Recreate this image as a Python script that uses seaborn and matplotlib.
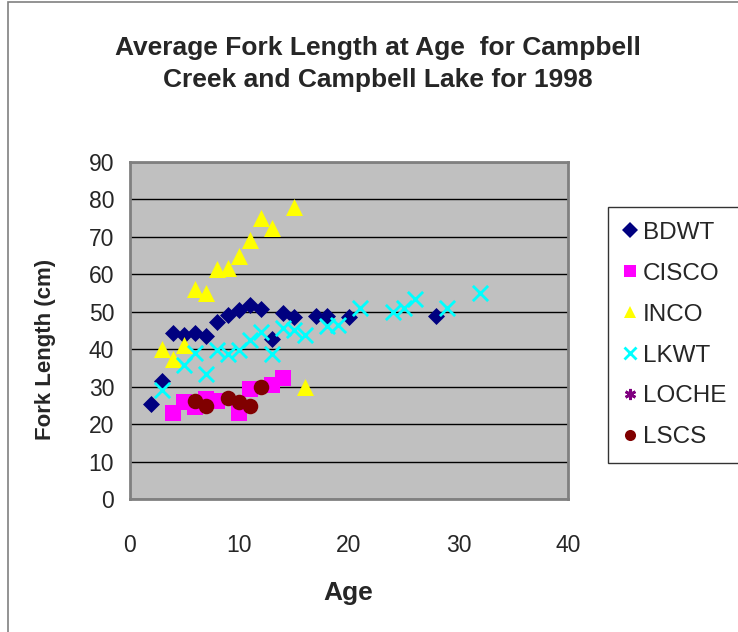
import numpy as np
import pandas as pd
import seaborn as sns
import matplotlib.pyplot as plt
from matplotlib.lines import Line2D
from matplotlib.patches import Rectangle

# values
bdwt_age = [2, 3, 4, 5, 6, 7, 8, 9, 10, 11, 12, 13, 14, 15, 17, 18, 20, 28]
bdwt_len = [25.5, 31.5, 44.3, 43.7, 44.2, 43.4, 47.3, 49.2, 50.6, 51.8, 50.7, 42.6, 49.7, 48.7, 49.0, 49.0, 48.6, 49.0]

cisco_age = [4, 5, 6, 7, 8, 10, 11, 13, 14]
cisco_len = [22.9, 25.9, 24.5, 26.8, 26.2, 23.0, 29.3, 30.4, 32.4]

inco_age = [3, 4, 5, 6, 7, 8, 9, 10, 11, 12, 13, 15, 16]
inco_len = [40.0, 37.5, 41.2, 56.0, 55.0, 61.3, 61.8, 64.8, 69.3, 75.0, 72.5, 78.0, 30.0]

lkwt_age = [3, 5, 6, 7, 8, 9, 10, 11, 12, 13, 14, 15, 16, 18, 19, 21, 24, 25, 26, 29, 32]
lkwt_len = [29.2, 35.9, 39.0, 33.5, 39.9, 38.8, 39.9, 42.4, 44.5, 38.8, 45.7, 45.2, 43.7, 46.1, 46.4, 51.1, 49.9, 51.1, 53.3, 51.1, 55.0]

loche_age = []
loche_len = []

lscs_age = [6, 7, 9, 10, 11, 12]
lscs_len = [26.2, 24.8, 27.1, 26.0, 24.8, 29.9]

species = ["BDWT", "CISCO", "INCO", "LKWT", "LOCHE", "LSCS"]
ages = [bdwt_age, cisco_age, inco_age, lkwt_age, loche_age, lscs_age]
lengths = [bdwt_len, cisco_len, inco_len, lkwt_len, loche_len, lscs_len]

colors = {"BDWT": "#000080", "CISCO": "#FF00FF", "INCO": "#FFFF00",
          "LKWT": "#00FFFF", "LOCHE": "#800080", "LSCS": "#800000"}
markers = {"BDWT": "D", "CISCO": "s", "INCO": "^", "LKWT": "x",
           "LOCHE": (6, 2, 0), "LSCS": "o"}
sizes = {"BDWT": 75, "CISCO": 120, "INCO": 150, "LKWT": 120, "LOCHE": 110, "LSCS": 125}

df = pd.concat([pd.DataFrame({"Age": a, "Length": l, "Species": s})
                for s, a, l in zip(species, ages, lengths)], ignore_index=True)

sns.set_style("white")
plt.rcParams["font.family"] = ["Liberation Sans", "DejaVu Sans"]

W, H = 738, 632
fig = plt.figure(figsize=(W / 100, H / 100), dpi=100)
ax = fig.add_axes([129.5 / W, 1 - 499 / H, (568 - 129.5) / W, (499 - 162) / H])
ax.set_facecolor("#C0C0C0")

for s in species:
    sub = df[df["Species"] == s]
    if len(sub) == 0:
        continue
    unfilled = s in ("LKWT", "LOCHE")
    sns.scatterplot(data=sub, x="Age", y="Length", ax=ax, color=colors[s],
                    marker=markers[s], s=sizes[s],
                    linewidth=2 if unfilled else 0, zorder=3, legend=False)

ax.set_xlim(0, 40)
ax.set_ylim(0, 90)
ax.set_xticks(range(0, 41, 10))
ax.set_yticks(range(0, 91, 10))
ax.grid(axis="y", color="black", linewidth=1)
ax.set_axisbelow(True)
for sp in ax.spines.values():
    sp.set_color("#808080")
    sp.set_linewidth(2)
ax.tick_params(axis="both", labelsize=16.5, direction="out", length=6,
               width=1, color="#404040")
ax.tick_params(axis="y", pad=5)
ax.tick_params(axis="x", pad=19)
ax.set_xlabel("")
ax.set_ylabel("")

fig.text(378 / W, 1 - 64 / H,
         "Average Fork Length at Age  for Campbell\nCreek and Campbell Lake for 1998",
         ha="center", va="center", fontsize=19, fontweight="bold", linespacing=1.45)
fig.text(46 / W, 1 - 349 / H, "Fork Length (cm)", rotation=90,
         ha="center", va="center", fontsize=16, fontweight="bold")
fig.text(348 / W, 1 - 593 / H, "Age", ha="center", va="center",
         fontsize=19, fontweight="bold")

# outer chart border (cropped at right and bottom)
fig.patches.append(Rectangle((8 / W, -0.1), 1.2, 1 - 2 / H + 0.1,
                             transform=fig.transFigure, fill=False,
                             edgecolor="#808080", linewidth=1.2))

handles = []
for s in species:
    unfilled = s in ("LKWT", "LOCHE")
    handles.append(Line2D([], [], linestyle="none", marker=markers[s],
                          color=colors[s], markersize=8,
                          markeredgewidth=2 if unfilled else 0))
leg = fig.legend(handles, species, loc="upper left",
                 bbox_to_anchor=(608 / W, 1 - 207 / H, 0.25, 0),
                 bbox_transform=fig.transFigure, mode="expand",
                 fontsize=17.5, frameon=True, fancybox=False,
                 labelspacing=0.78, handlelength=0.6, handletextpad=0.25,
                 borderpad=0.6, borderaxespad=0)
leg.get_frame().set_edgecolor("black")
leg.get_frame().set_linewidth(1)

fig.savefig("out.png", dpi=100)
